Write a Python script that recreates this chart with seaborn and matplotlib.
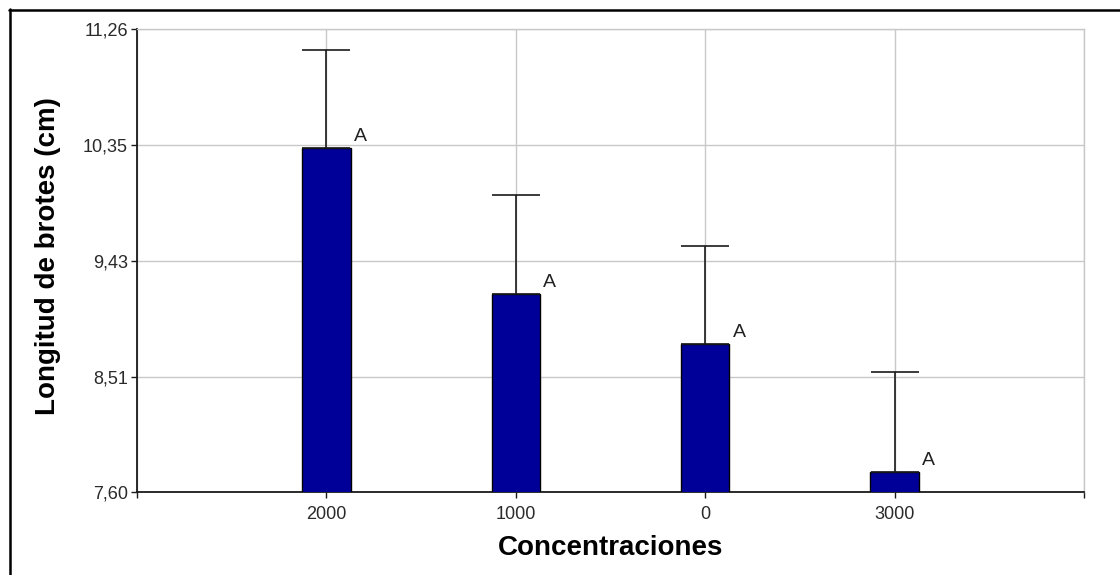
import pandas as pd
import matplotlib.pyplot as plt
from matplotlib.lines import Line2D
import seaborn as sns

sns.set_theme(style="white")
plt.rcParams['font.family'] = ['Liberation Sans', 'DejaVu Sans']

# values
concentraciones = ['2000', '1000', '0', '3000']
longitud = [10.32, 9.17, 8.77, 7.76]
error_sup = [0.78, 0.78, 0.78, 0.79]
letras = ['A', 'A', 'A', 'A']
y_ticks = [7.60, 8.51, 9.43, 10.35, 11.26]

data = pd.DataFrame({'Concentracion': concentraciones, 'Longitud': longitud})

fig = plt.figure(figsize=(11.2, 5.75), dpi=100)
ax = fig.add_axes([0.1223, 0.1438, 0.8456, 0.8049])

bar_w = 0.256
sns.barplot(x='Concentracion', y='Longitud', data=data, order=concentraciones,
            color='#000099', saturation=1, width=bar_w, edgecolor='black',
            linewidth=1, errorbar=None, ax=ax, zorder=3)

# upper-only error bars
pos = range(len(concentraciones))
ax.errorbar(list(pos), longitud, yerr=[[0] * len(error_sup), error_sup],
            fmt='none', ecolor='#1a1a1a', elinewidth=1.2, capsize=17.5,
            capthick=1.2, zorder=4)

for i, (v, l) in enumerate(zip(longitud, letras)):
    ax.annotate(l, xy=(i + bar_w / 2, v), xytext=(3, 7), textcoords='offset pixels',
                ha='left', va='baseline', fontsize=14, color='#222222', zorder=5)

ax.set_ylim(y_ticks[0], y_ticks[-1])
ax.set_yticks(y_ticks)
ax.set_yticklabels([f'{t:.2f}'.replace('.', ',') for t in y_ticks])
ax.set_xlim(-1, len(concentraciones))
ax.set_xticks(range(-1, len(concentraciones) + 1))
ax.set_xticklabels([''] + concentraciones + [''])

ax.grid(True, color='#c8c8c8', linewidth=1)
ax.set_axisbelow(True)
for side in ['top', 'right']:
    ax.spines[side].set_color('#c8c8c8')
    ax.spines[side].set_linewidth(1)
for side in ['left', 'bottom']:
    ax.spines[side].set_color('#1a1a1a')
    ax.spines[side].set_linewidth(1.3)

ax.tick_params(axis='y', which='major', left=True, length=4, width=1, color='#1a1a1a',
               pad=2.5, labelsize=13, labelcolor='#2a2a2a')
ax.tick_params(axis='x', which='major', bottom=True, length=4.5, width=1, color='#1a1a1a',
               pad=5, labelsize=13, labelcolor='#2a2a2a')

ax.set_xlabel('Concentraciones', fontsize=20, fontweight='bold', color='black')
ax.set_ylabel('Longitud de brotes (cm)', fontsize=20, fontweight='bold', color='black')
ax.xaxis.set_label_coords(0.5, -0.092)
ax.yaxis.set_label_coords(-0.080, 0.51)

# outer frame (top and left edges visible)
fig.add_artist(Line2D([9 / 1120, 1.0], [1 - 10 / 575, 1 - 10 / 575], color='black',
                      linewidth=1.8, transform=fig.transFigure))
fig.add_artist(Line2D([10 / 1120, 10 / 1120], [0.0, 1 - 9 / 575], color='black',
                      linewidth=1.8, transform=fig.transFigure))

fig.savefig('out.png', dpi=100)
